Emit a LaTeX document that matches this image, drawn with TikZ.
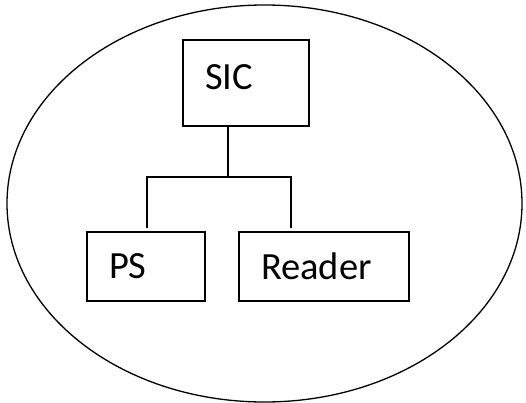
\documentclass[tikz,border=0pt]{standalone}
\usepackage{fontspec}
\setmainfont{Carlito}
\usetikzlibrary{positioning}
\tikzstyle{unit}=[rectangle, draw, line width=1.8pt, inner xsep=22pt, align=left, font=\fontsize{38.5}{42}\selectfont]
\tikzstyle{wire}=[line width=1.8pt]

\begin{document}
\begin{tikzpicture}[x=1pt,y=-1pt]
  \useasboundingbox (0,0) rectangle (526,403);
  %% Outer system boundary
  \draw[line width=1.3pt] (264.5,203.5) ellipse (257.5 and 198.5);

  %% Components
  \draw (246,83) node[unit,minimum width=126pt,minimum height=86pt,text width=82pt,text depth=12pt] (SIC) {SIC};
  \draw (146,266.5) node[unit,minimum width=118pt,minimum height=69pt,text width=74pt] (PS) {PS};
  \draw (324,266.5) node[unit,minimum width=170pt,minimum height=69pt,text width=126pt] (Reader) {Reader};

  %% Tree wiring
  \coordinate (Fork) at (228,177);
  \coordinate (PStop) at (147,228);
  \coordinate (Readertop) at (291,228);
  \draw[wire] (SIC.south -| Fork) -- (Fork);
  \draw[wire] (PStop) -- (PStop |- Fork) -- (Readertop |- Fork) -- (Readertop);
\end{tikzpicture}
\end{document}
